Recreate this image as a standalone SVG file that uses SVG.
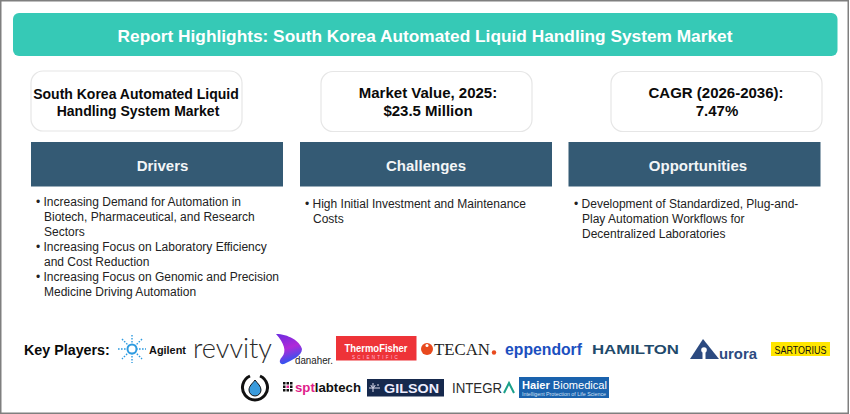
<svg xmlns="http://www.w3.org/2000/svg" width="850" height="414" viewBox="0 0 850 414">
<defs>
<linearGradient id="dan" x1="0" y1="0" x2="0.300" y2="1"><stop offset="0" stop-color="#6a2be0"/><stop offset="0.550" stop-color="#b02ad8"/><stop offset="1" stop-color="#2f55f0"/></linearGradient>
</defs>
<style>
text{font-family:"Liberation Sans",Arial,sans-serif}
.card{fill:#fff;stroke:#e6e6e6;stroke-width:1.2}
.band{fill:#345a74}
.bandt{fill:#f2f5f7;font-size:15px;font-weight:700;text-anchor:middle}
.cardt{fill:#0a0a0a;font-size:14px;font-weight:700;text-anchor:middle}
.big{font-size:15px}
.li{fill:#222;font-size:12px}
</style>
<rect x="0.75" y="0.75" width="847.5" height="412.5" fill="#fff" stroke="#7f7f7f" stroke-width="1.5"/>
<g id="header"><rect x="13" y="13" width="824.5" height="43" rx="6" fill="#36c9b6"/>
<text x="425" y="42" font-size="17.3" font-weight="700" fill="#fff" text-anchor="middle">Report Highlights: South Korea Automated Liquid Handling System Market</text></g>
<g id="card-market"><rect class="card" x="31" y="71" width="211" height="60" rx="12"/>
<text class="cardt" x="136" y="99">South Korea Automated Liquid</text><text class="cardt" x="138" y="116">Handling System Market</text></g>
<g id="card-value"><rect class="card" x="321" y="71.5" width="211" height="60" rx="12"/>
<text class="cardt big" x="428" y="98">Market Value, 2025:</text><text class="cardt big" x="428" y="116">$23.5 Million</text></g>
<g id="card-cagr"><rect class="card" x="611" y="71.5" width="211" height="60" rx="12"/>
<text class="cardt big" x="716" y="98">CAGR (2026-2036):</text><text class="cardt big" x="717" y="116">7.47%</text></g>
<g id="drivers"><rect class="band" x="31" y="142" width="252" height="44.500"/><text class="bandt" x="162.500" y="171">Drivers</text>
<text class="li" x="36" y="206">• Increasing Demand for Automation in</text>
<text class="li" x="44" y="221">Biotech, Pharmaceutical, and Research</text>
<text class="li" x="44" y="236">Sectors</text>
<text class="li" x="36" y="251">• Increasing Focus on Laboratory Efficiency</text>
<text class="li" x="44" y="266">and Cost Reduction</text>
<text class="li" x="36" y="281">• Increasing Focus on Genomic and Precision</text>
<text class="li" x="44" y="296">Medicine Driving Automation</text></g>
<g id="challenges"><rect class="band" x="300" y="142" width="252" height="44.500"/><text class="bandt" x="426" y="171">Challenges</text>
<text class="li" x="305" y="208">• High Initial Investment and Maintenance</text>
<text class="li" x="313" y="223">Costs</text></g>
<g id="opportunities"><rect class="band" x="568.500" y="142" width="252" height="44.500"/><text class="bandt" x="698" y="171">Opportunities</text>
<text class="li" x="574" y="208">• Development of Standardized, Plug-and-</text>
<text class="li" x="582" y="223">Play Automation Workflows for</text>
<text class="li" x="582" y="238">Decentralized Laboratories</text></g>
<g id="key-players">
<text x="24" y="355" font-size="14.300" font-weight="700" fill="#0a0a0a">Key Players:</text>
<g id="agilent"><g stroke="#2e9be0" stroke-width="1.400" stroke-dasharray="1.600 1.400" fill="none"><path d="M132 335V363M118 349H146M122 339L142 359M142 339L122 359"/></g><circle cx="132" cy="349" r="4.500" fill="#fff" stroke="#2e9be0" stroke-width="2"/>
<text x="149" y="354" font-size="10.500" font-weight="700" fill="#111" textLength="37" lengthAdjust="spacingAndGlyphs">Agilent</text></g>
<g id="revvity"><text x="193" y="358" font-size="27" fill="#2a2a2a" textLength="79" lengthAdjust="spacingAndGlyphs" style="font-family:Lato,Roboto,sans-serif;font-weight:300">revvity</text></g>
<g id="danaher"><path d="M276 334C288 334 300 341 302 349C302 356 292 360 284 364C280 365 278 361 282 357C287 351 284 343 276 334Z" fill="url(#dan)"/>
<text x="295" y="364" font-size="10" fill="#222" textLength="38" lengthAdjust="spacingAndGlyphs">danaher.</text></g>
<g id="thermofisher"><rect x="336" y="336" width="80.500" height="24.500" fill="#ee3338"/><text x="376" y="352" font-size="10.500" font-weight="700" fill="#fff" text-anchor="middle" textLength="63" lengthAdjust="spacingAndGlyphs">ThermoFisher</text><text x="376" y="359" font-size="4.500" fill="#fbd" text-anchor="middle" letter-spacing="2.300">SCIENTIFIC</text></g>
<g id="tecan"><circle cx="427" cy="349" r="6" fill="#e8491d"/><circle cx="427" cy="345.500" r="1.500" fill="#fff"/><text x="434" y="355" font-size="17.500" fill="#222" textLength="56" lengthAdjust="spacingAndGlyphs" style="font-family:'Liberation Serif',serif">TECAN</text><circle cx="494" cy="352.500" r="2.200" fill="#e8491d"/></g>
<g id="eppendorf"><text x="505" y="355" font-size="17" font-weight="700" fill="#1b4fc0" textLength="77" lengthAdjust="spacingAndGlyphs">eppendorf</text></g>
<g id="hamilton"><text x="592" y="353.500" font-size="13" font-weight="700" fill="#1f4a6b" textLength="87" lengthAdjust="spacingAndGlyphs">HAMILTON</text></g>
<g id="aurora"><path d="M690 359L703 339L719 359Z" fill="#2c4a80"/><circle cx="704" cy="350" r="2.800" fill="#fff"/><rect x="702.500" y="350" width="3" height="9" fill="#fff"/><text x="719" y="359" font-size="15" font-weight="700" fill="#2c4a80" textLength="38" lengthAdjust="spacingAndGlyphs">urora</text></g>
<g id="sartorius"><rect x="771" y="342" width="59" height="14" fill="#ffe600"/><text x="800.500" y="353.500" font-size="10.500" fill="#111" text-anchor="middle" textLength="52" lengthAdjust="spacingAndGlyphs">SARTORIUS</text></g>
<g id="opentrons"><path d="M250 376A12.500 12.500 0 1 0 260 376" fill="none" stroke="#111" stroke-width="3"/><path d="M255 380C258 384 261 386 261 390A6 6 0 0 1 249 390C249 386 252 384 255 380Z" fill="#3a9bdc" stroke="#111" stroke-width="1"/></g>
<g id="sptlabtech"><g fill="#111"><rect x="283" y="382" width="2.500" height="2.500"/><rect x="286.500" y="382" width="2.500" height="2.500"/><rect x="290" y="382" width="2.500" height="2.500"/><rect x="283" y="385.500" width="2.500" height="2.500"/><rect x="290" y="385.500" width="2.500" height="2.500"/><rect x="283" y="389" width="2.500" height="2.500"/><rect x="286.500" y="389" width="2.500" height="2.500"/><rect x="290" y="389" width="2.500" height="2.500"/></g><rect x="286.500" y="385.500" width="2.500" height="2.500" fill="#e0218a"/>
<text x="295" y="392" font-size="13" font-weight="700" fill="#111" textLength="66" lengthAdjust="spacingAndGlyphs"><tspan fill="#e0218a">spt</tspan>labtech</text></g>
<g id="gilson"><rect x="367" y="379" width="77" height="17.500" fill="#16294d"/><path d="M373 383V392M371 385C371 388 375 388 375 385M377 385H379M380 388H369" stroke="#dde" stroke-width="1" fill="none"/><text x="384" y="392.500" font-size="13" font-weight="700" fill="#eef" textLength="55" lengthAdjust="spacingAndGlyphs">GILSON</text></g>
<g id="integra"><text x="452" y="393" font-size="14" fill="#2a2a2a" textLength="50" lengthAdjust="spacingAndGlyphs">INTEGR</text><path d="M504 393L509 383L514 393" fill="none" stroke="#1aa08a" stroke-width="2"/></g>
<g id="haier"><rect x="519" y="377" width="90" height="21" fill="#1a62ad"/><text x="522" y="389" font-size="10.500" fill="#fff" textLength="85" lengthAdjust="spacingAndGlyphs"><tspan font-weight="700">Haier</tspan> Biomedical</text><text x="522" y="395.500" font-size="4.800" fill="#cfe0f5" textLength="84" lengthAdjust="spacingAndGlyphs">Intelligent Protection of Life Science</text></g>
</g>
</svg>
